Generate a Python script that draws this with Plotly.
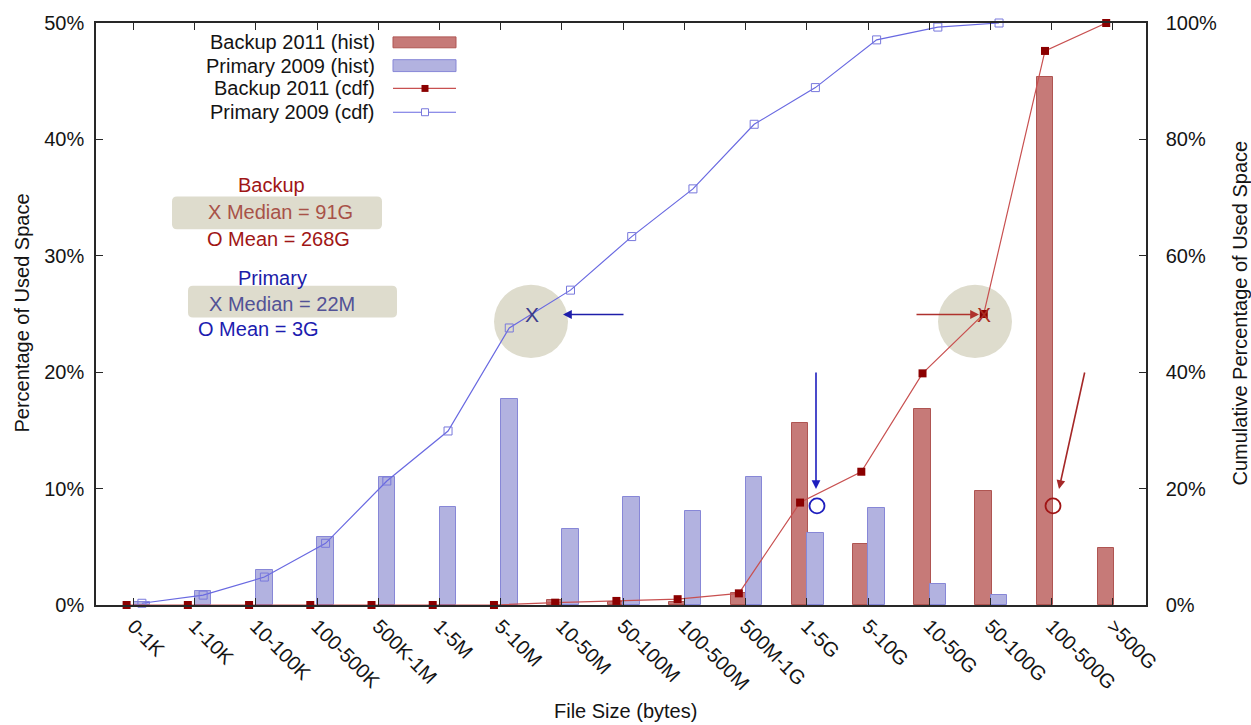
import plotly.graph_objects as go

categories = ["0-1K", "1-10K", "10-100K", "100-500K", "500K-1M", "1-5M", "5-10M",
              "10-50M", "50-100M", "100-500M", "500M-1G", "1-5G", "5-10G",
              "10-50G", "50-100G", "100-500G", ">500G"]
backup_hist = [0, 0, 0, 0, 0, 0, 0, 0.4, 0.3, 0.3, 1.0, 15.6, 5.2, 16.8, 9.8, 45.4, 4.9]
primary_hist = [0.3, 1.2, 3.0, 5.8, 11.0, 8.45, 17.7, 6.5, 9.3, 8.1, 11.0, 6.2, 8.3, 1.8, 0.9, 0, 0]
backup_cdf = [0, 0, 0, 0, 0, 0, 0, 0.4, 0.7, 1.0, 2.0, 17.6, 22.9, 39.8, 50.0, 95.2, 100]
primary_cdf = [0.3, 1.7, 4.8, 10.6, 21.3, 29.9, 47.6, 54.1, 63.3, 71.5, 82.6, 88.9, 97.1, 99.3, 100]
left_ticks = [0, 10, 20, 30, 40, 50]
right_ticks = [0, 20, 40, 60, 80, 100]

W, H = 1251, 725
L, R, T, B = 96, 1146, 18, 605
FONT = "Liberation Sans, Arial, sans-serif"

RED_BAR = "rgb(198,122,120)"
RED_EDGE = "rgb(175,85,82)"
BLUE_BAR = "rgb(178,178,224)"
BLUE_EDGE = "rgb(135,135,215)"
RED_LINE = "rgb(200,80,80)"
RED_MK = "rgb(139,0,0)"
BLUE_LINE = "rgb(105,105,225)"
BLUE_MK = "rgb(120,120,220)"
TXT = "rgb(20,20,20)"


def px(x):
    return (x - L) / (R - L)


def py(y):
    return (B - y) / (B - T)


xi = list(range(len(categories)))
prim_x = [i + 0.25 for i in xi]

fig = go.Figure()
fig.add_trace(go.Bar(x=xi, y=backup_hist, width=0.27, name="Backup 2011 (hist)",
                     marker=dict(color=RED_BAR,
                                 line=dict(color=RED_EDGE,
                                           width=[1 if v > 0 else 0 for v in backup_hist])),
                     showlegend=False))
fig.add_trace(go.Bar(x=prim_x, y=primary_hist, width=0.27, name="Primary 2009 (hist)",
                     marker=dict(color=BLUE_BAR,
                                 line=dict(color=BLUE_EDGE,
                                           width=[1 if v > 0 else 0 for v in primary_hist])),
                     showlegend=False))
fig.add_trace(go.Scatter(x=xi, y=backup_cdf, yaxis="y2", mode="lines+markers",
                         name="Backup 2011 (cdf)",
                         line=dict(color=RED_LINE, width=1.2),
                         marker=dict(symbol="square", size=8, color=RED_MK),
                         showlegend=False, cliponaxis=False))
fig.add_trace(go.Scatter(x=prim_x[:len(primary_cdf)], y=primary_cdf, yaxis="y2",
                         mode="lines+markers", name="Primary 2009 (cdf)",
                         line=dict(color=BLUE_LINE, width=1.2),
                         marker=dict(symbol="square-open", size=8, color=BLUE_MK,
                                     line=dict(width=1)),
                         showlegend=False, cliponaxis=False))

shapes = []
annotations = []

# beige highlight circles
for cx, cy in [(531, 319), (975, 319)]:
    shapes.append(dict(type="circle", xref="paper", yref="paper", layer="below",
                       x0=px(cx - 37), x1=px(cx + 37), y0=py(cy + 37), y1=py(cy - 37),
                       fillcolor="rgb(222,220,205)", line=dict(width=0)))


def rounded_box(x0, y0, x1, y1, r=5):
    X0, X1 = px(x0), px(x1)
    Y0, Y1 = py(y1), py(y0)
    rx = r / (R - L)
    ry = r / (B - T)
    return (f"M {X0+rx},{Y0} L {X1-rx},{Y0} Q {X1},{Y0} {X1},{Y0+ry} "
            f"L {X1},{Y1-ry} Q {X1},{Y1} {X1-rx},{Y1} L {X0+rx},{Y1} "
            f"Q {X0},{Y1} {X0},{Y1-ry} L {X0},{Y0+ry} Q {X0},{Y0} {X0+rx},{Y0} Z")


for box in [(172, 193, 382, 226), (188, 283, 397, 315)]:
    shapes.append(dict(type="path", xref="paper", yref="paper", layer="below",
                       path=rounded_box(*box), fillcolor="rgb(222,220,205)",
                       line=dict(width=0)))

# open circles for the means
for cx, cy, col in [(817, 505, "rgb(30,30,190)"), (1053, 505, "rgb(160,20,20)")]:
    shapes.append(dict(type="circle", xref="paper", yref="paper",
                       x0=px(cx - 7.5), x1=px(cx + 7.5), y0=py(cy + 7.5), y1=py(cy - 7.5),
                       line=dict(color=col, width=1.8)))


def text(x, y, s, color, size=19, anchor="center", angle=0):
    annotations.append(dict(x=px(x), y=py(y), xref="paper", yref="paper", text=s,
                            showarrow=False, xanchor=anchor, yanchor="middle",
                            textangle=angle,
                            font=dict(family=FONT, size=size, color=color)))


def arrow(hx, hy, tx, ty, color):
    annotations.append(dict(x=px(hx), y=py(hy), xref="paper", yref="paper", text="",
                            showarrow=True, ax=tx - hx, ay=ty - hy, axref="pixel",
                            ayref="pixel", arrowhead=2, arrowsize=1.1, arrowwidth=1.6,
                            arrowcolor=color))


# left annotation block
text(271, 181, "Backup", "rgb(160,22,22)", size=20)
text(280, 209, "X Median = 91G", "rgb(168,82,72)", size=20)
text(278, 236, "O Mean = 268G", "rgb(160,22,22)", size=20)
text(272, 275, "Primary", "rgb(28,28,168)", size=20)
text(282, 301, "X Median = 22M", "rgb(82,82,150)", size=20)
text(196, 327, "O Mean = 3G", "rgb(28,28,176)", size=20, anchor="left")

# X marks and arrows
text(532, 312, "X", "rgb(60,60,140)", size=21)
text(984, 312, "X", "rgb(170,45,35)", size=21)
arrow(563, 312, 625, 312, "rgb(30,30,170)")
arrow(979, 312, 915, 312, "rgb(175,50,45)")
arrow(816, 488, 816, 370, "rgb(30,30,190)")
arrow(1059, 488, 1085, 370, "rgb(165,40,40)")

# custom legend (text right aligned, samples on the right)
leg = [("Backup 2011 (hist)", 37), ("Primary 2009 (hist)", 61),
       ("Backup 2011 (cdf)", 84), ("Primary 2009 (cdf)", 108)]
for s, y in leg:
    text(377, y, s, TXT, size=20, anchor="right")
shapes.append(dict(type="rect", xref="paper", yref="paper", x0=px(393), x1=px(456),
                   y0=py(43), y1=py(32), fillcolor=RED_BAR, line=dict(color=RED_EDGE, width=1)))
shapes.append(dict(type="rect", xref="paper", yref="paper", x0=px(393), x1=px(456),
                   y0=py(67), y1=py(55), fillcolor=BLUE_BAR, line=dict(color=BLUE_EDGE, width=1)))
shapes.append(dict(type="line", xref="paper", yref="paper", x0=px(393), x1=px(456),
                   y0=py(84), y1=py(84), line=dict(color=RED_LINE, width=1.2)))
shapes.append(dict(type="rect", xref="paper", yref="paper", x0=px(421.5), x1=px(428.5),
                   y0=py(87.5), y1=py(80.5), fillcolor=RED_MK, line=dict(width=0)))
shapes.append(dict(type="line", xref="paper", yref="paper", x0=px(393), x1=px(456),
                   y0=py(108), y1=py(108), line=dict(color=BLUE_LINE, width=1.2)))
shapes.append(dict(type="rect", xref="paper", yref="paper", x0=px(421.5), x1=px(428.5),
                   y0=py(111.5), y1=py(104.5), fillcolor="white",
                   line=dict(color=BLUE_MK, width=1)))

# axis titles
text(22, 311, "Percentage of Used Space", TXT, size=20, angle=-90)
text(1240, 311, "Cumulative Percentage of Used Space", TXT, size=20, angle=-90)
text(625, 712, "File Size (bytes)", TXT, size=20)

fig.update_layout(
    width=W, height=H,
    margin=dict(l=L, r=W - R, t=T, b=H - B, pad=0),
    paper_bgcolor="white", plot_bgcolor="rgba(0,0,0,0)",
    barmode="overlay", bargap=0,
    showlegend=False,
    font=dict(family=FONT, size=19, color=TXT),
    xaxis=dict(range=[-0.5, 16.65], tickmode="array",
               tickvals=[i + 0.11 for i in xi], ticktext=categories,
               tickangle=45, ticks="inside", ticklen=7, tickcolor="rgb(40,40,40)",
               showline=True, linecolor="rgb(40,40,40)", linewidth=1.5,
               mirror="ticks", showgrid=False, zeroline=False,
               tickfont=dict(family=FONT, size=20, color=TXT)),
    yaxis=dict(range=[0, 50], tickmode="array", tickvals=left_ticks,
               ticktext=[f"{v}%" for v in left_ticks],
               ticks="inside", ticklen=7, tickcolor="rgb(40,40,40)",
               showline=True, linecolor="rgb(40,40,40)", linewidth=1.5,
               showgrid=False, zeroline=False, ticklabelstandoff=6,
               tickfont=dict(family=FONT, size=20, color=TXT)),
    yaxis2=dict(range=[0, 100], overlaying="y", side="right", tickmode="array",
                tickvals=right_ticks, ticktext=[f"{v}%" for v in right_ticks],
                ticks="inside", ticklen=7, tickcolor="rgb(40,40,40)",
                showline=True, linecolor="rgb(40,40,40)", linewidth=1.5,
                showgrid=False, zeroline=False, ticklabelstandoff=14,
                tickfont=dict(family=FONT, size=20, color=TXT)),
    shapes=shapes, annotations=annotations,
)

fig.write_html("out.html")
